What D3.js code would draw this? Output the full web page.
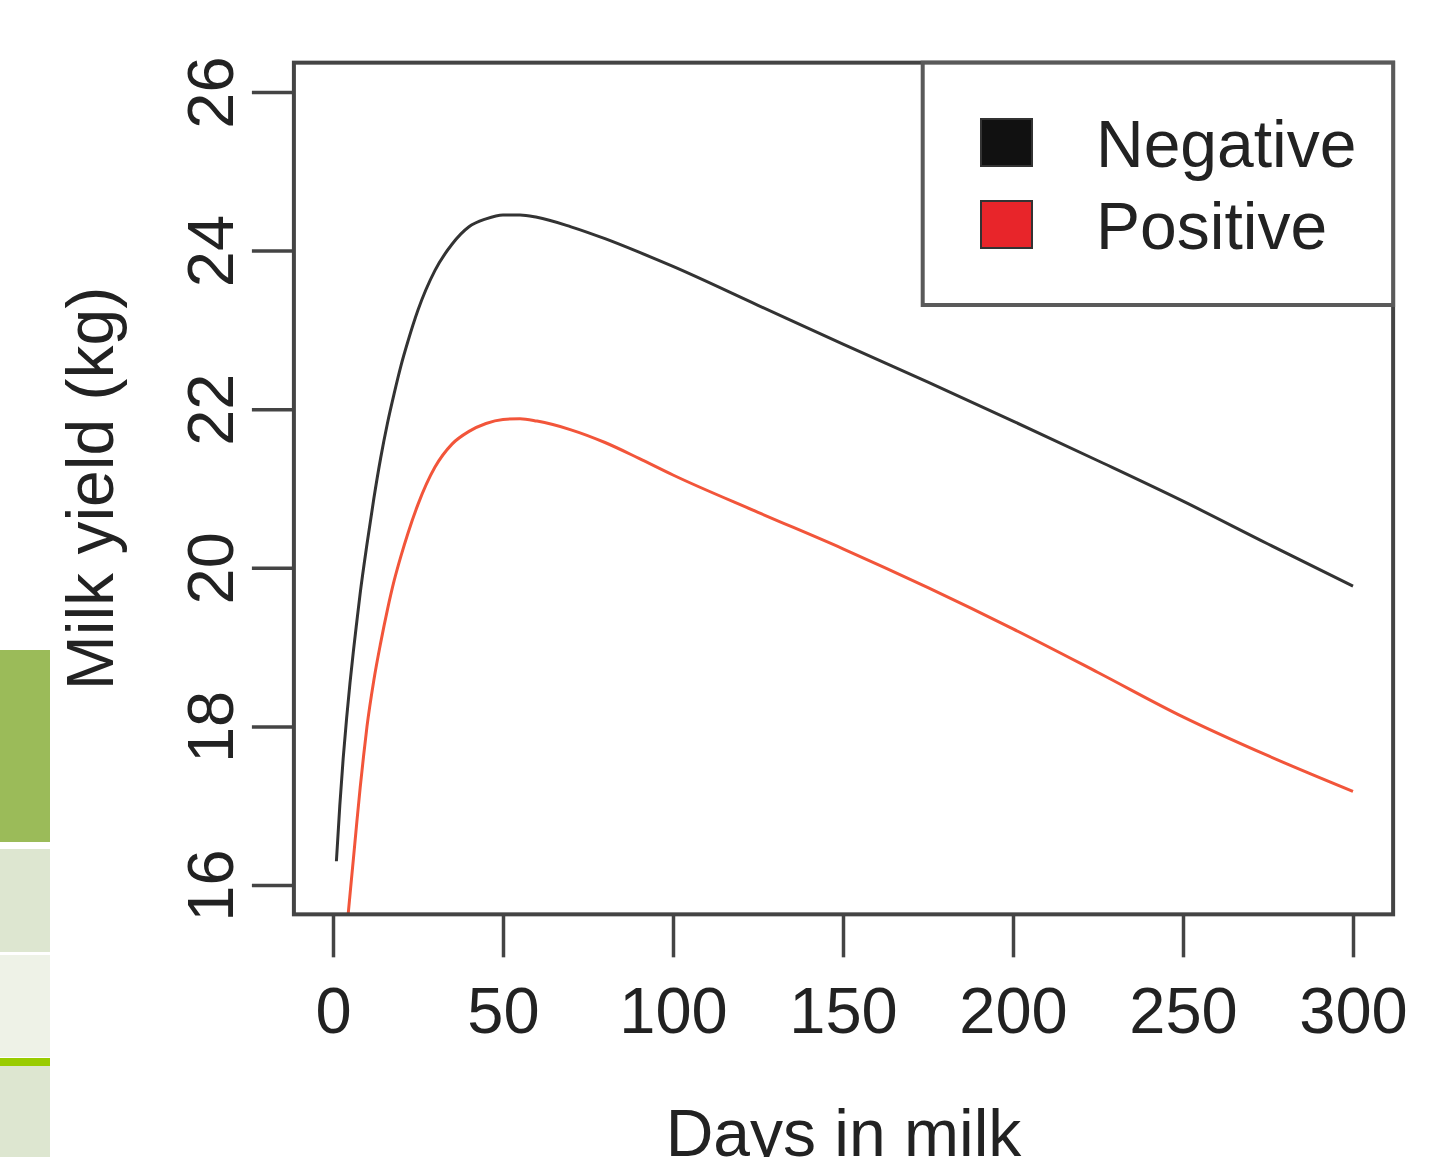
<!DOCTYPE html>
<html>
<head>
<meta charset="utf-8">
<script src="https://cdn.jsdelivr.net/npm/d3@7"></script>
<style>
    body { margin: 0; background: #fff; }
    svg { display: block; }
    text { font-family: "Liberation Sans", Arial, Helvetica, sans-serif; fill: #222; }
</style>
</head>
<body>
<div id="lactation-chart"></div>
<script>
const negDays = [1, 2, 3, 4, 5, 6, 7, 8, 10, 12, 14, 16, 18, 20, 22, 25, 30, 35, 40, 45, 50, 55, 60, 70, 80, 90, 100, 125, 150, 175, 200, 225, 250, 275, 300];
const negYield = [16.3, 17.0, 17.6, 18.1, 18.55, 18.95, 19.32, 19.68, 20.3, 20.87, 21.38, 21.82, 22.2, 22.55, 22.85, 23.25, 23.75, 24.08, 24.3, 24.4, 24.45, 24.45, 24.42, 24.3, 24.15, 23.98, 23.8, 23.31, 22.82, 22.34, 21.85, 21.35, 20.84, 20.3, 19.77];

const posDays = [3, 4, 5, 6, 7, 8, 9, 10, 12, 14, 16, 18, 20, 22, 25, 30, 35, 40, 45, 50, 55, 60, 70, 80, 90, 100, 125, 150, 175, 200, 225, 250, 275, 300];
const posYield = [14.95, 15.42, 15.88, 16.33, 16.79, 17.23, 17.63, 18.0, 18.58, 19.05, 19.47, 19.84, 20.15, 20.43, 20.8, 21.27, 21.56, 21.72, 21.82, 21.87, 21.88, 21.85, 21.74, 21.58, 21.38, 21.17, 20.7, 20.24, 19.75, 19.23, 18.68, 18.12, 17.63, 17.18];

const xTicks = [0, 50, 100, 150, 200, 250, 300];
const yTicks = [16, 18, 20, 22, 24, 26];

const seriesNames = ["Negative", "Positive"];
const lineColors = ["#333333", "#f2553a"];
const keyColors = ["#111111", "#e8252a"];

const width = 1434;
const height = 1157;

const svg = d3.select("#lactation-chart")
    .append("svg")
    .attr("width", width)
    .attr("height", height);

// page furniture bleeding in on the left edge
const sideBands = [
    { y0: 650, y1: 842, color: "#9bbb59" },
    { y0: 849, y1: 952, color: "#dde6d0" },
    { y0: 955, y1: 1057, color: "#eef2e7" },
    { y0: 1058, y1: 1066, color: "#99cc00" },
    { y0: 1066, y1: 1157, color: "#dde6d0" }
];
svg.selectAll(".side-band")
    .data(sideBands)
    .join("rect")
    .attr("class", "side-band")
    .attr("x", 0)
    .attr("y", d => d.y0)
    .attr("width", 50)
    .attr("height", d => d.y1 - d.y0)
    .attr("fill", d => d.color);

const x = d3.scaleLinear()
    .domain([0, 300])
    .range([333, 1353]);

const y = d3.scaleLinear()
    .domain([16, 26])
    .range([885, 92]);

// R-style plot region, 4% padding around the data
const boxLeft = x(-11.5), boxRight = x(311.8);
const boxTop = y(26.37), boxBottom = y(15.63);

svg.append("clipPath")
    .attr("id", "plot-clip")
    .append("rect")
    .attr("x", boxLeft)
    .attr("y", boxTop)
    .attr("width", boxRight - boxLeft)
    .attr("height", boxBottom - boxTop);

const line = d3.line()
    .x(d => x(d.day))
    .y(d => y(d.value))
    .curve(d3.curveMonotoneX);

const series = [
    negDays.map((d, i) => ({ day: d, value: negYield[i] })),
    posDays.map((d, i) => ({ day: d, value: posYield[i] }))
];

svg.append("g")
    .attr("clip-path", "url(#plot-clip)")
    .selectAll("path")
    .data(series)
    .join("path")
    .attr("d", line)
    .attr("fill", "none")
    .attr("stroke", (d, i) => lineColors[i])
    .attr("stroke-width", 3)
    .attr("stroke-linejoin", "round");

// x axis
const xAxis = svg.append("g")
    .attr("transform", `translate(0, ${boxBottom})`)
    .call(d3.axisBottom(x).tickValues(xTicks).tickSize(43).tickSizeOuter(0).tickPadding(30));
xAxis.select(".domain").remove();
xAxis.selectAll("line").attr("stroke", "#444").attr("stroke-width", 3.5);
xAxis.selectAll("text")
    .attr("fill", "#222")
    .style("font-size", "65px")
    .style("font-family", "'Liberation Sans', Arial, sans-serif");

// y axis, labels parallel to the axis
const yAxis = svg.append("g")
    .attr("transform", `translate(${boxLeft}, 0)`)
    .call(d3.axisLeft(y).tickValues(yTicks).tickSize(42).tickSizeOuter(0));
yAxis.select(".domain").remove();
yAxis.selectAll("line").attr("stroke", "#444").attr("stroke-width", 3.5);
yAxis.selectAll("text")
    .attr("x", null)
    .attr("dy", null)
    .attr("fill", "#222")
    .attr("transform", "translate(-61, 0) rotate(-90)")
    .style("text-anchor", "middle")
    .style("font-size", "65px")
    .style("font-family", "'Liberation Sans', Arial, sans-serif");

// plot frame
svg.append("rect")
    .attr("x", boxLeft)
    .attr("y", boxTop)
    .attr("width", boxRight - boxLeft)
    .attr("height", boxBottom - boxTop)
    .attr("fill", "none")
    .attr("stroke", "#444")
    .attr("stroke-width", 4);

svg.append("text")
    .attr("x", (boxLeft + boxRight) / 2)
    .attr("y", 1156)
    .style("text-anchor", "middle")
    .style("font-size", "66px")
    .text("Days in milk");

svg.append("text")
    .attr("transform", `translate(113, ${(boxTop + boxBottom) / 2}) rotate(-90)`)
    .style("text-anchor", "middle")
    .style("font-size", "66px")
    .text("Milk yield (kg)");

// legend
const legend = svg.append("g");
legend.append("rect")
    .attr("x", 922.7)
    .attr("y", boxTop)
    .attr("width", boxRight - 922.7)
    .attr("height", 305 - boxTop)
    .attr("fill", "#fff")
    .attr("stroke", "#5a5a5a")
    .attr("stroke-width", 4);

const keys = legend.selectAll(".key")
    .data(seriesNames)
    .join("g")
    .attr("class", "key")
    .attr("transform", (d, i) => `translate(0, ${i * 82})`);

keys.append("rect")
    .attr("x", 981)
    .attr("y", 119)
    .attr("width", 51)
    .attr("height", 47)
    .attr("fill", (d, i) => keyColors[i])
    .attr("stroke", "#333")
    .attr("stroke-width", 2);

keys.append("text")
    .attr("x", 1096)
    .attr("y", 167)
    .style("font-size", "66px")
    .text(d => d);
</script>
</body>
</html>
